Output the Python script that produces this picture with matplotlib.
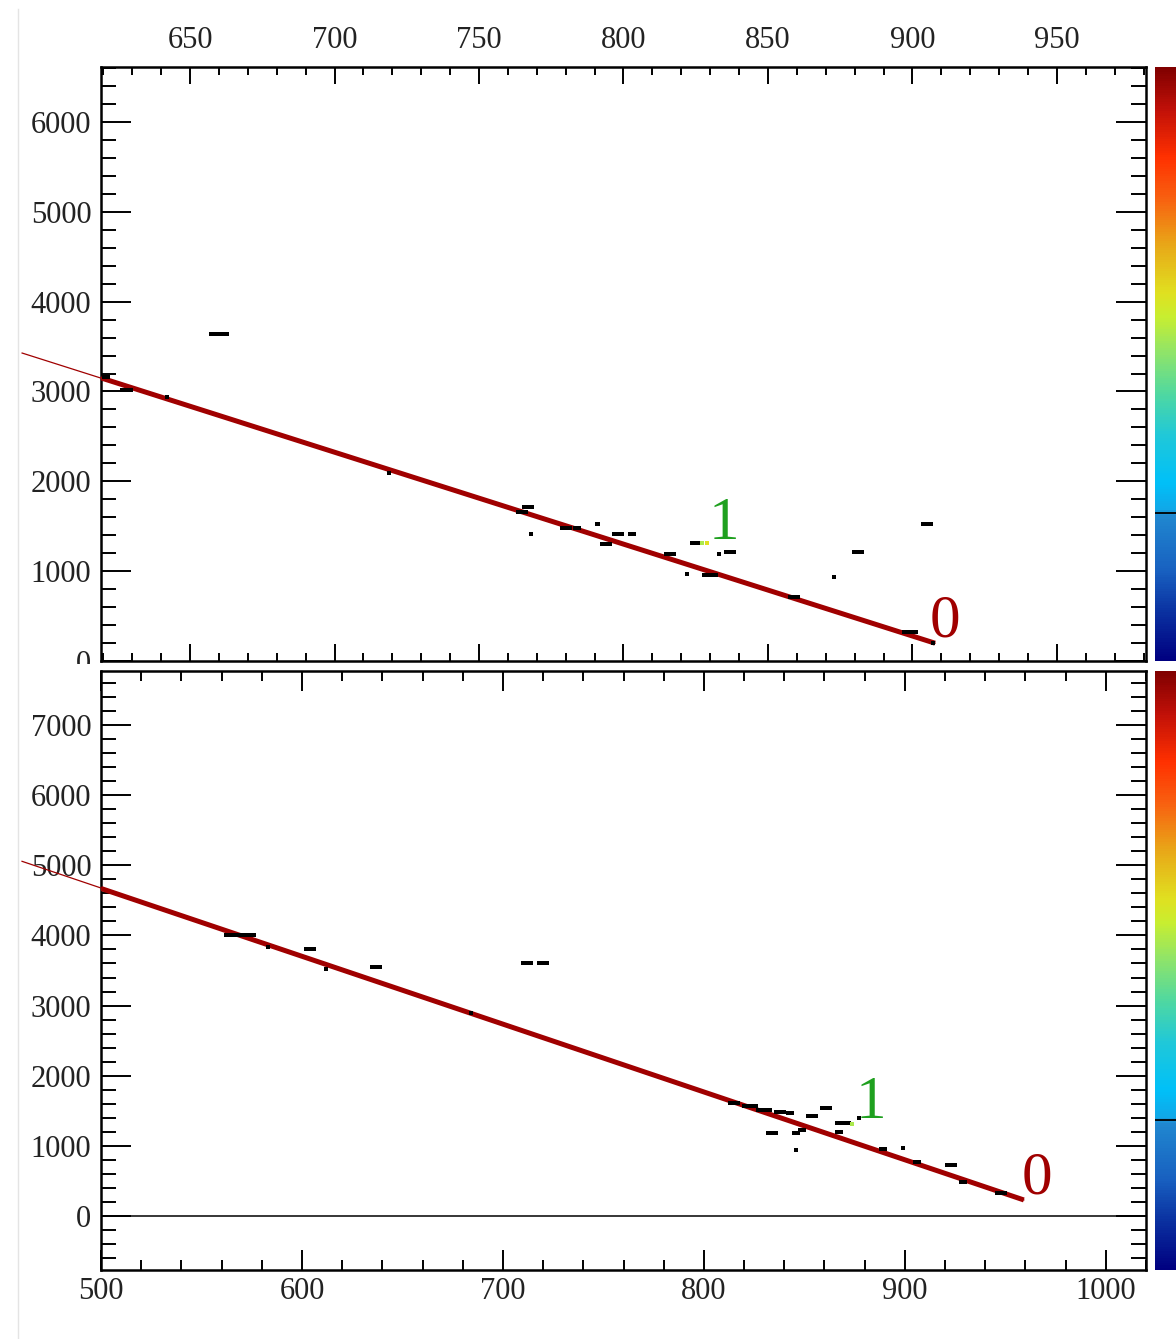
import matplotlib
matplotlib.use('Agg')

import numpy as np
from matplotlib import pyplot as plt
from matplotlib.colors import LinearSegmentedColormap, Normalize
from matplotlib.ticker import MultipleLocator, FixedLocator
from matplotlib.lines import Line2D
from matplotlib.patches import Rectangle

W, H = 1176, 1339
SERIF = ['Liberation Serif', 'DejaVu Serif']

# ---- top panel data ----
top_xticks = [650, 700, 750, 800, 850, 900, 950]
top_yticks = [0, 1000, 2000, 3000, 4000, 5000, 6000]
top_xlim = (619.2, 980.8)
top_ylim = (0, 6612)
top_fit_x = [591.9, 907.8]
top_fit_y = [3428, 198]
top_band_x = [619.2, 907.8]
top_band_y = [3151, 198]
top_cell_x = [660, 767, 765, 768, 791, 780, 784, 794, 798, 803, 816, 822, 825, 833,
              837, 830, 873, 881, 905, 859, 899, 907, 621, 628, 642, 719]
top_cell_y = [3640, 1710, 1660, 1410, 1520, 1480, 1480, 1300, 1410, 1410, 1190, 970, 1310, 1190,
              1210, 960, 930, 1210, 1520, 710, 320, 200, 3160, 3020, 2940, 2090]
top_cell_n = [5, 3, 3, 1, 1, 3, 2, 3, 3, 2, 3, 1, 3, 1,
              3, 4, 1, 3, 3, 3, 4, 1, 2, 3, 1, 1]
top_col_x = [827, 829]
top_col_y = [1315, 1315]
top_col_v = [0.55, 0.62]
top_labels = ['1', '0']
top_label_x = [834.8, 911.2]
top_label_y = [1356, 276]

# ---- bottom panel data ----
bot_xticks = [500, 600, 700, 800, 900, 1000]
bot_yticks = [0, 1000, 2000, 3000, 4000, 5000, 6000, 7000]
bot_xlim = (500, 1020)
bot_ylim = (-771, 7771)
bot_fit_x = [460.7, 959.2]
bot_fit_y = [5057, 228]
bot_band_x = [500, 959.2]
bot_band_y = [4670, 228]
bot_cell_x = [569, 604, 637, 712, 720, 583, 612, 684, 815, 823, 830, 838, 843,
              834, 846, 846, 849, 854, 861, 869, 867, 877, 889, 899, 906, 923, 929, 948]
bot_cell_y = [4010, 3800, 3550, 3610, 3610, 3840, 3525, 2900, 1613, 1570, 1513, 1484, 1470,
              1180, 1180, 940, 1230, 1430, 1540, 1330, 1200, 1400, 960, 970, 770, 730, 490, 330]
bot_cell_n = [8, 3, 3, 3, 3, 1, 1, 1, 3, 4, 4, 3, 2,
              3, 2, 1, 2, 3, 3, 4, 2, 1, 2, 1, 2, 3, 2, 3]
bot_col_x = [873.6]
bot_col_y = [1313]
bot_col_v = [0.55]
bot_labels = ['1', '0']
bot_label_x = [883.1, 965.7]
bot_label_y = [1398, 314]

palette_pos = [0.0, 0.08, 0.15, 0.245, 0.255, 0.30, 0.38, 0.45, 0.52, 0.58, 0.62, 0.70, 0.78, 0.85, 0.93, 1.0]
palette_col = ['#000080', '#0a30a0', '#1860c0', '#2088d0', '#10a8e8', '#00c0f8', '#20c8d8', '#50d8a0',
               '#90e468', '#c8ee30', '#e0e020', '#e8a818', '#f86010', '#ff3000', '#c01008', '#800000']
contour_level = 0.25

cmap = LinearSegmentedColormap.from_list('root', list(zip(palette_pos, palette_col)))
norm = Normalize(0, 1)

RED = '#a00000'


def px_box(l, t, r, b):
    return [l / W, 1 - b / H, (r - l) / W, (b - t) / H]


def style(ax, xmaj, xmin, ymaj, ymin, xlen, top_labels_on):
    ax.xaxis.set_major_locator(FixedLocator(xmaj))
    ax.xaxis.set_minor_locator(MultipleLocator(xmin))
    ax.yaxis.set_major_locator(FixedLocator(ymaj))
    ax.yaxis.set_minor_locator(MultipleLocator(ymin))
    for s in ax.spines.values():
        s.set_linewidth(1.8)
    ax.tick_params(axis='both', which='both', direction='in', width=1.4,
                   top=True, bottom=True, left=True, right=True)
    ax.tick_params(axis='x', which='major', length=xlen[0])
    ax.tick_params(axis='x', which='minor', length=xlen[1])
    ax.tick_params(axis='y', which='major', length=21.6, pad=7)
    ax.tick_params(axis='y', which='minor', length=10.8)
    if top_labels_on:
        ax.tick_params(axis='x', labeltop=True, labelbottom=False, pad=9)
    else:
        ax.tick_params(axis='x', labeltop=False, labelbottom=True, pad=5)
    for lab in ax.get_xticklabels() + ax.get_yticklabels():
        lab.set_family(SERIF)
        lab.set_fontsize(22)
        lab.set_color('#222222')


def cells(ax, xs, ys, ns, bw, bh):
    for x, y, n in zip(xs, ys, ns):
        ax.bar(x, bh, width=bw * n, bottom=y - bh / 2, color='black', linewidth=0, zorder=4)


def panel(ax, xlim, ylim, fit_x, fit_y, band_x, band_y, cx, cy, cn, colx, coly, colv,
          labels, lx, ly, bw, bh):
    ax.set_xlim(*xlim)
    ax.set_ylim(*ylim)
    ax.plot(fit_x, fit_y, color=RED, lw=0.9, clip_on=False, zorder=3)
    ax.plot(band_x, band_y, color=RED, lw=3.6, solid_capstyle='butt', zorder=3)
    cells(ax, cx, cy, cn, bw, bh)
    for x, y, v in zip(colx, coly, colv):
        ax.bar(x, bh, width=bw, bottom=y - bh / 2, color=cmap(norm(v)), linewidth=0, zorder=5)
    ax.text(lx[0], ly[0], labels[0], color='#1fa01f', fontsize=44, family=SERIF,
            ha='center', va='baseline', zorder=6)
    ax.text(lx[1], ly[1], labels[1], color='#a00000', fontsize=44, family=SERIF,
            ha='center', va='baseline', zorder=6)


fig = plt.figure(figsize=(W / 100, H / 100), dpi=100)

ax1 = fig.add_axes(px_box(101, 67, 1146, 661))
panel(ax1, top_xlim, top_ylim, top_fit_x, top_fit_y, top_band_x, top_band_y,
      top_cell_x, top_cell_y, top_cell_n, top_col_x, top_col_y, top_col_v,
      top_labels, top_label_x, top_label_y, 1.4, 45)
style(ax1, top_xticks, 10, top_yticks, 200, (12.2, 5.8), True)

ax2 = fig.add_axes(px_box(101, 671, 1146, 1270))
panel(ax2, bot_xlim, bot_ylim, bot_fit_x, bot_fit_y, bot_band_x, bot_band_y,
      bot_cell_x, bot_cell_y, bot_cell_n, bot_col_x, bot_col_y, bot_col_v,
      bot_labels, bot_label_x, bot_label_y, 2.0, 57)
ax2.axhline(0, color='black', lw=1.1, zorder=2)
style(ax2, bot_xticks, 20, bot_yticks, 200, (14.4, 7.2), False)

for (t, b) in [(67, 661), (671, 1270)]:
    cax = fig.add_axes(px_box(1155, t, 1190, b))
    cb = fig.colorbar(plt.cm.ScalarMappable(norm=norm, cmap=cmap), cax=cax)
    cb.outline.set_visible(False)
    cb.set_ticks([])
    cax.axhline(contour_level, color='black', lw=1.3)

# top panel's "0" label is cut by the lower pad
fig.patches.append(Rectangle((20 / W, 1 - 690 / H), 78 / W, 26 / H, transform=fig.transFigure,
                             facecolor='white', edgecolor='none', zorder=10))
fig.lines.append(Line2D([18 / W, 18 / W], [0, 1 - 9 / H], transform=fig.transFigure,
                        color='#e4e4e4', lw=1.0))

fig.savefig('out.png', dpi=100)
